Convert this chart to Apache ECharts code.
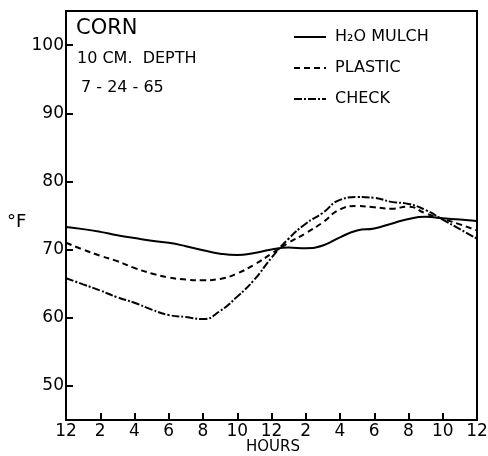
<!DOCTYPE html>
<html>
<head>
<meta charset="utf-8">
<script src="https://cdn.jsdelivr.net/npm/echarts@6/dist/echarts.min.js"></script>
<style>
    html, body { margin: 0; padding: 0; background: #fff; }
    #chart { width: 488px; height: 456px; }
</style>
</head>
<body>
<div id="chart"></div>
<script>
    // hours since midnight, 12 = noon
    var hours = [0, 1, 2, 3, 4, 5, 6, 7, 8, 9, 10, 11, 12, 13, 14, 15, 16, 17, 18, 19, 20, 21, 22, 23, 24];
    var mulch = [73.3, 73.0, 72.6, 72.1, 71.7, 71.3, 71.0, 70.5, 69.9, 69.4, 69.2, 69.5, 70.0, 70.3, 70.2, 70.6, 71.8, 72.8, 73.1, 73.8, 74.5, 74.8, 74.6, 74.4, 74.2];
    var plastic = [71.0, 70.0, 69.1, 68.3, 67.3, 66.5, 65.9, 65.6, 65.5, 65.7, 66.5, 67.8, 69.4, 71.0, 72.4, 74.0, 75.9, 76.4, 76.2, 76.0, 76.3, 75.3, 74.5, 73.7, 72.8];
    var check = [65.8, 64.9, 64.0, 63.0, 62.2, 61.2, 60.4, 60.1, 59.8, 61.0, 63.1, 65.6, 68.8, 71.6, 73.8, 75.4, 77.3, 77.7, 77.6, 77.0, 76.7, 75.8, 74.4, 73.0, 71.6];
    var yTicks = [50, 60, 70, 80, 90, 100];
    var seriesNames = ['H₂O MULCH', 'PLASTIC', 'CHECK'];

    function pairs(vals) {
        return hours.map(function (h, i) { return [h, vals[i]]; });
    }

    var font = 'DejaVu Sans';
    var chart = echarts.init(document.getElementById('chart'));
    chart.setOption({
        animation: false,
        backgroundColor: '#fff',
        grid: {
            left: 66, right: 11, top: 11, bottom: 36,
            outerBoundsMode: 'none',
            show: true, borderColor: '#000', borderWidth: 2
        },
        legend: {
            data: seriesNames,
            orient: 'vertical',
            left: 288, top: 24,
            itemWidth: 32, itemHeight: 14, itemGap: 15,
            itemStyle: { color: 'transparent', borderWidth: 0 },
            textStyle: { fontFamily: font, fontSize: 16, color: '#000', padding: [0, 0, 0, 4] }
        },
        xAxis: {
            type: 'value',
            min: 0, max: 24, interval: 2,
            splitLine: { show: false },
            axisLine: { lineStyle: { color: '#000', width: 2 } },
            axisTick: { inside: true, length: 7, lineStyle: { color: '#000', width: 2 } },
            axisLabel: {
                fontFamily: font, fontSize: 17, color: '#000', margin: 3,
                formatter: function (v) { return v % 12 === 0 ? '12' : String(v % 12); }
            }
        },
        yAxis: {
            type: 'value',
            min: 45, max: 105,
            splitLine: { show: false },
            axisLine: { lineStyle: { color: '#000', width: 2 } },
            axisTick: { inside: true, length: 7, customValues: yTicks, lineStyle: { color: '#000', width: 2 } },
            axisLabel: { fontFamily: font, fontSize: 17, color: '#000', margin: 2, customValues: yTicks }
        },
        graphic: [
            { type: 'text', left: 76, top: 18, style: { text: 'CORN', font: '21px "DejaVu Sans"', fill: '#000' } },
            { type: 'text', left: 77, top: 51, style: { text: '10 CM.  DEPTH', font: '16px "DejaVu Sans"', fill: '#000' } },
            { type: 'text', left: 81, top: 80, style: { text: '7 - 24 - 65', font: '16px "DejaVu Sans"', fill: '#000' } },
            { type: 'text', left: 7, top: 213, style: { text: '°F', font: '18px "DejaVu Sans"', fill: '#000' } },
            { type: 'text', left: 246, top: 440, style: { text: 'HOURS', font: '15px "DejaVu Sans"', fill: '#000' } }
        ],
        series: [
            {
                name: seriesNames[0], type: 'line', data: pairs(mulch),
                smooth: true, symbol: 'none',
                lineStyle: { color: '#000', width: 2 }
            },
            {
                name: seriesNames[1], type: 'line', data: pairs(plastic),
                smooth: true, symbol: 'none',
                lineStyle: { color: '#000', width: 2, type: [6, 4] }
            },
            {
                name: seriesNames[2], type: 'line', data: pairs(check),
                smooth: true, symbol: 'none',
                lineStyle: { color: '#000', width: 2, type: [8, 2, 2, 2] }
            }
        ]
    });
</script>
</body>
</html>
